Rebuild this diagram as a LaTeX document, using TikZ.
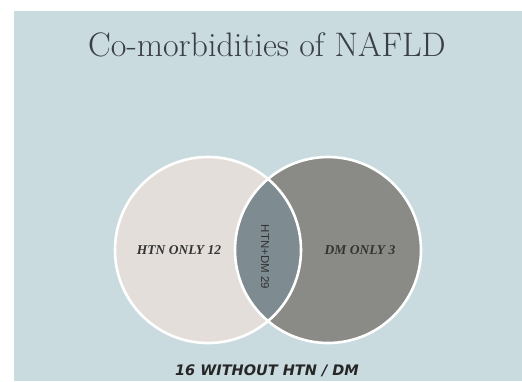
\documentclass[tikz,border=0pt]{standalone}
\usepackage{fontspec}
\newfontfamily\sansf{Liberation Sans}
\newfontfamily\heavyf{DejaVu Sans}
\newfontfamily\seriff{Liberation Serif}
\definecolor{bgc}{HTML}{C9DBDF}
\definecolor{leftc}{HTML}{E3DED9}
\definecolor{rightc}{HTML}{8A8A86}
\definecolor{lensc}{HTML}{7E8C92}
\definecolor{txtc}{HTML}{3A3F44}
\tikzset{
  ring/.style={draw=white,line width=2.6pt},
  lbl/.style={text=txtc,inner sep=0pt},
}
\begin{document}
\begin{tikzpicture}[x=1pt,y=-1pt]
\useasboundingbox (0,0) rectangle (522,381);
\fill[white] (0,0) rectangle (522,381);
\fill[bgc] (14,11) rectangle (522,381);
\coordinate (cl) at (208,250);
\coordinate (cr) at (328,250);
\fill[leftc] (cl) circle[radius=93];
\fill[rightc] (cr) circle[radius=93];
\begin{scope}
  \clip (cl) circle[radius=93];
  \fill[lensc] (cr) circle[radius=93];
\end{scope}
\draw[ring] (cl) circle[radius=93];
\draw[ring] (cr) circle[radius=93];
\node[lbl] (title) at (267,45) {\fontsize{34}{38}\selectfont Co-morbidities of NAFLD};
\node[lbl,text=black!80] (htn) at (179,250) {\seriff\fontsize{13.5}{15}\selectfont\bfseries\itshape HTN ONLY 12};
\node[lbl,text=black!80] (dm) at (360,250) {\seriff\fontsize{13.5}{15}\selectfont\bfseries\itshape DM ONLY 3};
\node[lbl,rotate=-90,text=black!80] (both) at (265,257) {\sansf\fontsize{11.5}{13}\selectfont HTN+DM 29};
\node[lbl,text=black!85] (none) at (267,371) {\heavyf\fontsize{14.5}{16}\selectfont\bfseries\itshape 16 WITHOUT HTN / DM};
\end{tikzpicture}
\end{document}
